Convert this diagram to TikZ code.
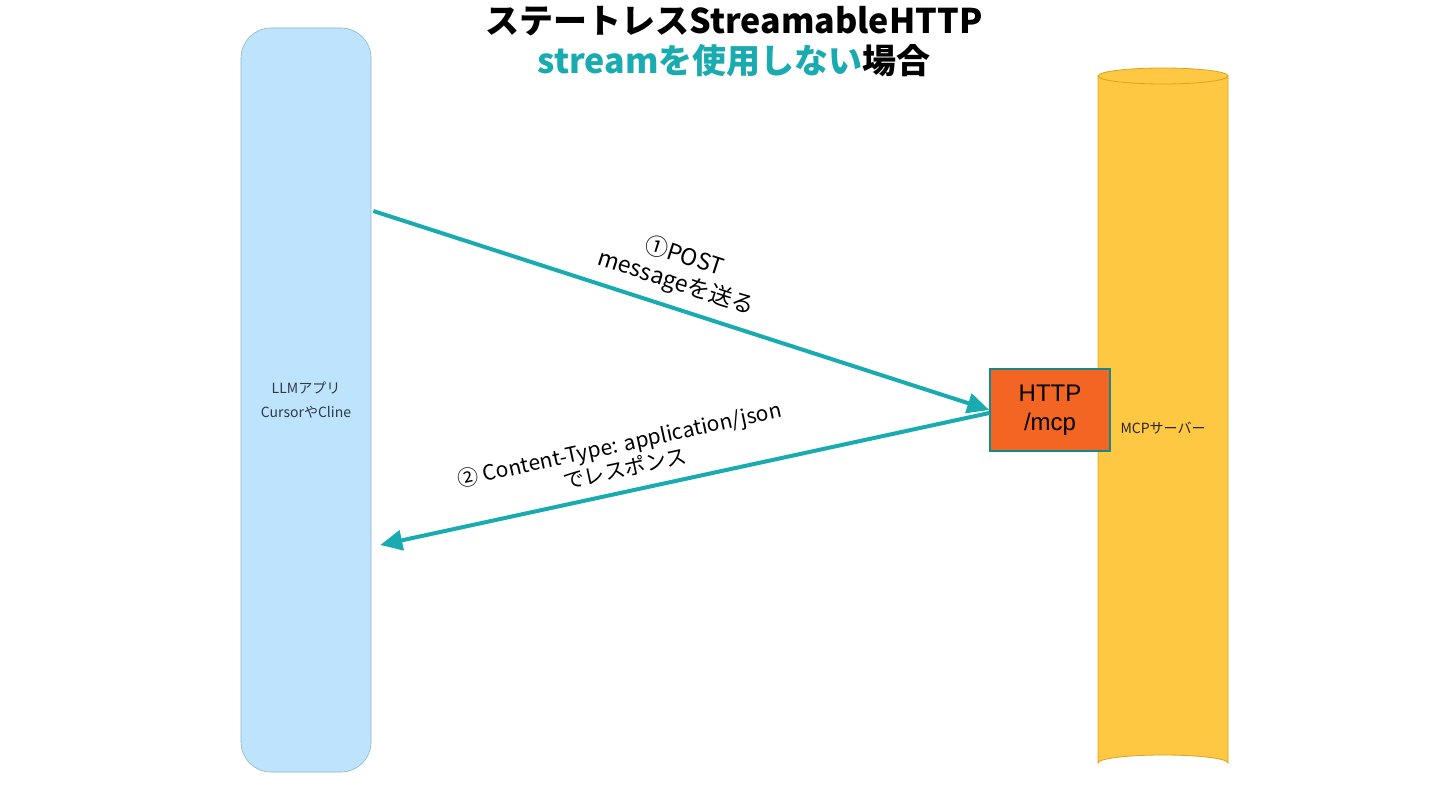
\documentclass[tikz,border=0pt]{standalone}
\usepackage{fontspec}
\setmainfont{Noto Sans CJK JP}
\newfontfamily\jp{Noto Sans CJK JP}
\newfontfamily\hv{Liberation Sans}
\usetikzlibrary{arrows.meta,calc}
\definecolor{teal1}{HTML}{19ABB0}
\definecolor{appblue}{HTML}{BEE3FD}
\definecolor{appedge}{HTML}{8FB3CC}
\definecolor{srvfill}{HTML}{FEC843}
\definecolor{srvedge}{HTML}{DDA21E}
\definecolor{httpfill}{HTML}{F26522}
\definecolor{labtxt}{HTML}{2E3A46}
\tikzset{
  flow/.style={draw=teal1, line width=4pt, -{Triangle[length=22pt,width=20pt]}},
  lbl/.style={font=\jp\fontsize{21}{25}\selectfont, text=black, align=center, inner sep=0pt},
  small/.style={font=\jp\fontsize{14}{24}\selectfont, text=labtxt, align=center},
}
\begin{document}
\begin{tikzpicture}[x=1pt,y=-1pt]
\useasboundingbox[fill=white] (0,0) rectangle (1440,810);
% title
\node[font=\jp\bfseries\fontsize{34}{40}\selectfont, align=center, inner sep=0pt] (title) at (734,42)
  {ステートレスStreamableHTTP\\\textcolor{teal1}{streamを使用しない}場合};
% app
\node[draw=appedge, fill=appblue, line width=0.6pt, rounded corners=30pt,
  minimum width=130pt, minimum height=744pt, inner sep=0pt] (app) at (306,400) {};
\node[small] (applbl) at (306,400) {LLMアプリ\\CursorやCline};
% server cylinder
\coordinate (stop) at (1163,76);
\fill[srvfill] (1098,76) -- (1098,763) arc[start angle=180,end angle=360,x radius=65,y radius=8] -- (1228,76) -- cycle;
\draw[srvedge, line width=0.8pt] (1098,76) -- (1098,763) arc[start angle=180,end angle=360,x radius=65,y radius=8] -- (1228,76);
\draw[srvedge, line width=0.8pt, fill=srvfill] (stop) ellipse[x radius=65, y radius=8];
\node[small, text=black!85] (srvlbl) at (1163,428) {MCPサーバー};
% http box
\node[draw=teal1!80!black, fill=httpfill, line width=1.5pt, minimum width=120pt, minimum height=82pt,
  font=\hv\fontsize{24}{29}\selectfont, align=center, inner sep=0pt] (http) at (1050,410) {HTTP\\/mcp};
% arrows
\coordinate (a1s) at ($(app.east)+(2,-189)$);
\coordinate (a2e) at ($(app.east)+(9,145)$);
\draw[flow] (a1s) -- (http.west);
\draw[flow] ($(http.west)+(0,3)$) -- (a2e);
\node[lbl, font=\jp\fontsize{23}{27}\selectfont, rotate=-17.9] (l1) at (680,270) {①POST\\messageを送る};
\node[lbl, rotate=12.3] (l2) at (622,456) {② Content-Type: application/json\\でレスポンス};
\end{tikzpicture}
\end{document}
